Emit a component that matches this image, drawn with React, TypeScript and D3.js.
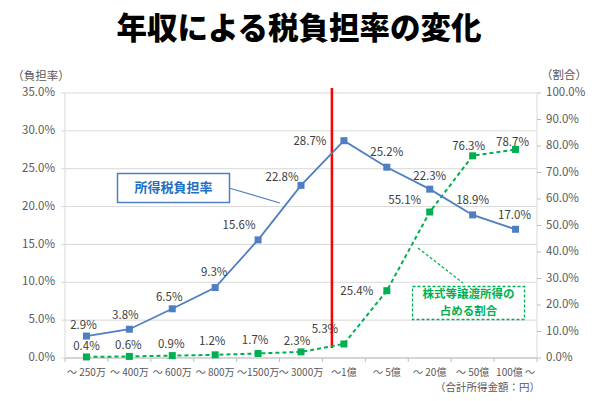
import React from "react";
import * as d3 from "d3";

const categories = ["～ 250万", "～ 400万", "～ 600万", "～ 800万", "～1500万", "～ 3000万", "～1億", "～ 5億", "～ 20億", "～ 50億", "100億 ～"];
const taxRate = [2.9, 3.8, 6.5, 9.3, 15.6, 22.8, 28.7, 25.2, 22.3, 18.9, 17.0];
const stockShare = [0.4, 0.6, 0.9, 1.2, 1.7, 2.3, 5.3, 25.4, 55.1, 76.3, 78.7];
const leftTicks = [0, 5, 10, 15, 20, 25, 30, 35];
const rightTicks = [0, 10, 20, 30, 40, 50, 60, 70, 80, 90, 100];

// label placement offsets (dx, dy) relative to each marker
const taxLabelOffset = [[-3, -10], [-4, -13], [-3, -11], [-1, -15], [-19, -14], [-19, -7], [-34, 1], [0, -14], [0, -12], [0, -14], [-1, -13]];
const shareLabelOffset = [[0, -10], [-1, -11], [-1, -11], [-3, -13], [-3, -13], [-4, -10], [-19, -14], [-30, 1], [-25, -11], [-4, -9], [-3, -7]];

const W = 600, H = 401;
const L = 65, R = 537, T = 93, B = 358;
const blue = "#4f7fc2";
const green = "#00b050";
const textGray = "#404040";
const font = "'Noto Sans CJK JP', 'Noto Sans', sans-serif";

export default function App() {
  const x = d3.scaleBand<string>().domain(categories).range([L, R]).padding(0);
  const bw = x.bandwidth();
  const cx = (i: number) => (x(categories[i]) as number) + bw / 2;
  const yL = d3.scaleLinear().domain([0, 35]).range([B, T]);
  const yR = d3.scaleLinear().domain([0, 100]).range([B, T]);

  const lineL = d3.line<number>().x((_, i) => cx(i)).y((d) => yL(d));
  const lineR = d3.line<number>().x((_, i) => cx(i)).y((d) => yR(d));

  const redX = (x(categories[6]) as number) + bw * 0.22;

  return (
    <div style={{ position: "fixed", left: 0, top: 0 }}>
      <svg width={W} height={H} style={{ display: "block", background: "#fff" }} fontFamily={font}>
        <rect x={0} y={0} width={W} height={H} fill="#fff" />
        <text x={299} y={31} textAnchor="middle" dominantBaseline="middle" fontSize={30.5} fontWeight={900} fill="#000">年収による税負担率の変化</text>

        {/* gridlines */}
        {leftTicks.map((t) => (
          <line key={"g" + t} x1={L - 4} x2={R} y1={yL(t)} y2={yL(t)} stroke="#d9d9d9" strokeWidth={1} />
        ))}
        {/* axes lines */}
        <line x1={L} x2={L} y1={T} y2={B} stroke="#d9d9d9" />
        <line x1={R} x2={R} y1={T} y2={B} stroke="#d9d9d9" />
        <line x1={L} x2={R} y1={B} y2={B} stroke="#bfbfbf" />
        {rightTicks.map((t) => (
          <line key={"rt" + t} x1={R} x2={R + 4} y1={yR(t)} y2={yR(t)} stroke="#bfbfbf" />
        ))}
        {categories.map((c, i) => (
          <line key={"xt" + i} x1={x(c) as number} x2={x(c) as number} y1={B} y2={B + 4} stroke="#bfbfbf" />
        ))}
        <line x1={R} x2={R} y1={B} y2={B + 4} stroke="#bfbfbf" />

        {/* tick labels */}
        {leftTicks.map((t) => (
          <text key={"lt" + t} x={55} y={yL(t)} textAnchor="end" dominantBaseline="middle" fontSize={11.5} fill="#595959">{t.toFixed(1)}%</text>
        ))}
        {rightTicks.map((t) => (
          <text key={"rl" + t} x={546} y={yR(t)} textAnchor="start" dominantBaseline="middle" fontSize={11.5} fill="#595959">{t.toFixed(1)}%</text>
        ))}
        {categories.map((c, i) => (
          <text key={"xl" + i} x={cx(i)} y={373} textAnchor="middle" dominantBaseline="middle" fontSize={10} fill="#595959">{c}</text>
        ))}
        <text x={41} y={77} textAnchor="middle" dominantBaseline="middle" fontSize={11.5} fill="#595959">（負担率）</text>
        <text x={564} y={76} textAnchor="middle" dominantBaseline="middle" fontSize={11.5} fill="#595959">（割合）</text>
        <text x={540} y={388} textAnchor="end" dominantBaseline="middle" fontSize={10.5} fill="#595959">（合計所得金額：円）</text>

        {/* red divider */}
        <line x1={redX} x2={redX} y1={T - 5} y2={B - 10} stroke="#ff0000" strokeWidth={2.5} />

        {/* green series */}
        <path d={lineR(stockShare) || ""} fill="none" stroke={green} strokeWidth={2} strokeDasharray="4,3" />
        {stockShare.map((v, i) => (
          <rect key={"gm" + i} x={cx(i) - 3.5} y={yR(v) - 3.5} width={7} height={7} fill={green} />
        ))}

        {/* blue series */}
        <path d={lineL(taxRate) || ""} fill="none" stroke={blue} strokeWidth={1.8} />
        {taxRate.map((v, i) => (
          <rect key={"bm" + i} x={cx(i) - 3.5} y={yL(v) - 3.5} width={7} height={7} fill={blue} />
        ))}

        {/* data labels */}
        {taxRate.map((v, i) => (
          <text key={"bl" + i} x={cx(i) + taxLabelOffset[i][0]} y={yL(v) + taxLabelOffset[i][1]} textAnchor="middle" dominantBaseline="middle" fontSize={11.5} fill={textGray}>{v.toFixed(1)}%</text>
        ))}
        {stockShare.map((v, i) => (
          <text key={"gl" + i} x={cx(i) + shareLabelOffset[i][0]} y={yR(v) + shareLabelOffset[i][1]} textAnchor="middle" dominantBaseline="middle" fontSize={11.5} fill={textGray}>{v.toFixed(1)}%</text>
        ))}

        {/* blue callout */}
        <line x1={229} y1={188} x2={280} y2={203} stroke={blue} strokeWidth={1.2} />
        <rect x={117.5} y={173.5} width={112} height={29} fill="#fff" stroke={blue} strokeWidth={1.5} />
        <text x={173.5} y={188} textAnchor="middle" dominantBaseline="middle" fontSize={13} fontWeight={700} fill="#1f6fc5">所得税負担率</text>

        {/* green callout */}
        <line x1={418} y1={248} x2={463} y2={283} stroke={green} strokeWidth={1.2} strokeDasharray="3,2" />
        <rect x={412.5} y={286.5} width={112} height={33} fill="#fff" stroke={green} strokeWidth={1.3} strokeDasharray="3,2" />
        <text x={468.5} y={295} textAnchor="middle" dominantBaseline="middle" fontSize={11.5} fontWeight={700} fill={green}>株式等譲渡所得の</text>
        <text x={468.5} y={311.5} textAnchor="middle" dominantBaseline="middle" fontSize={11.5} fontWeight={700} fill={green}>占める割合</text>
      </svg>
    </div>
  );
}
